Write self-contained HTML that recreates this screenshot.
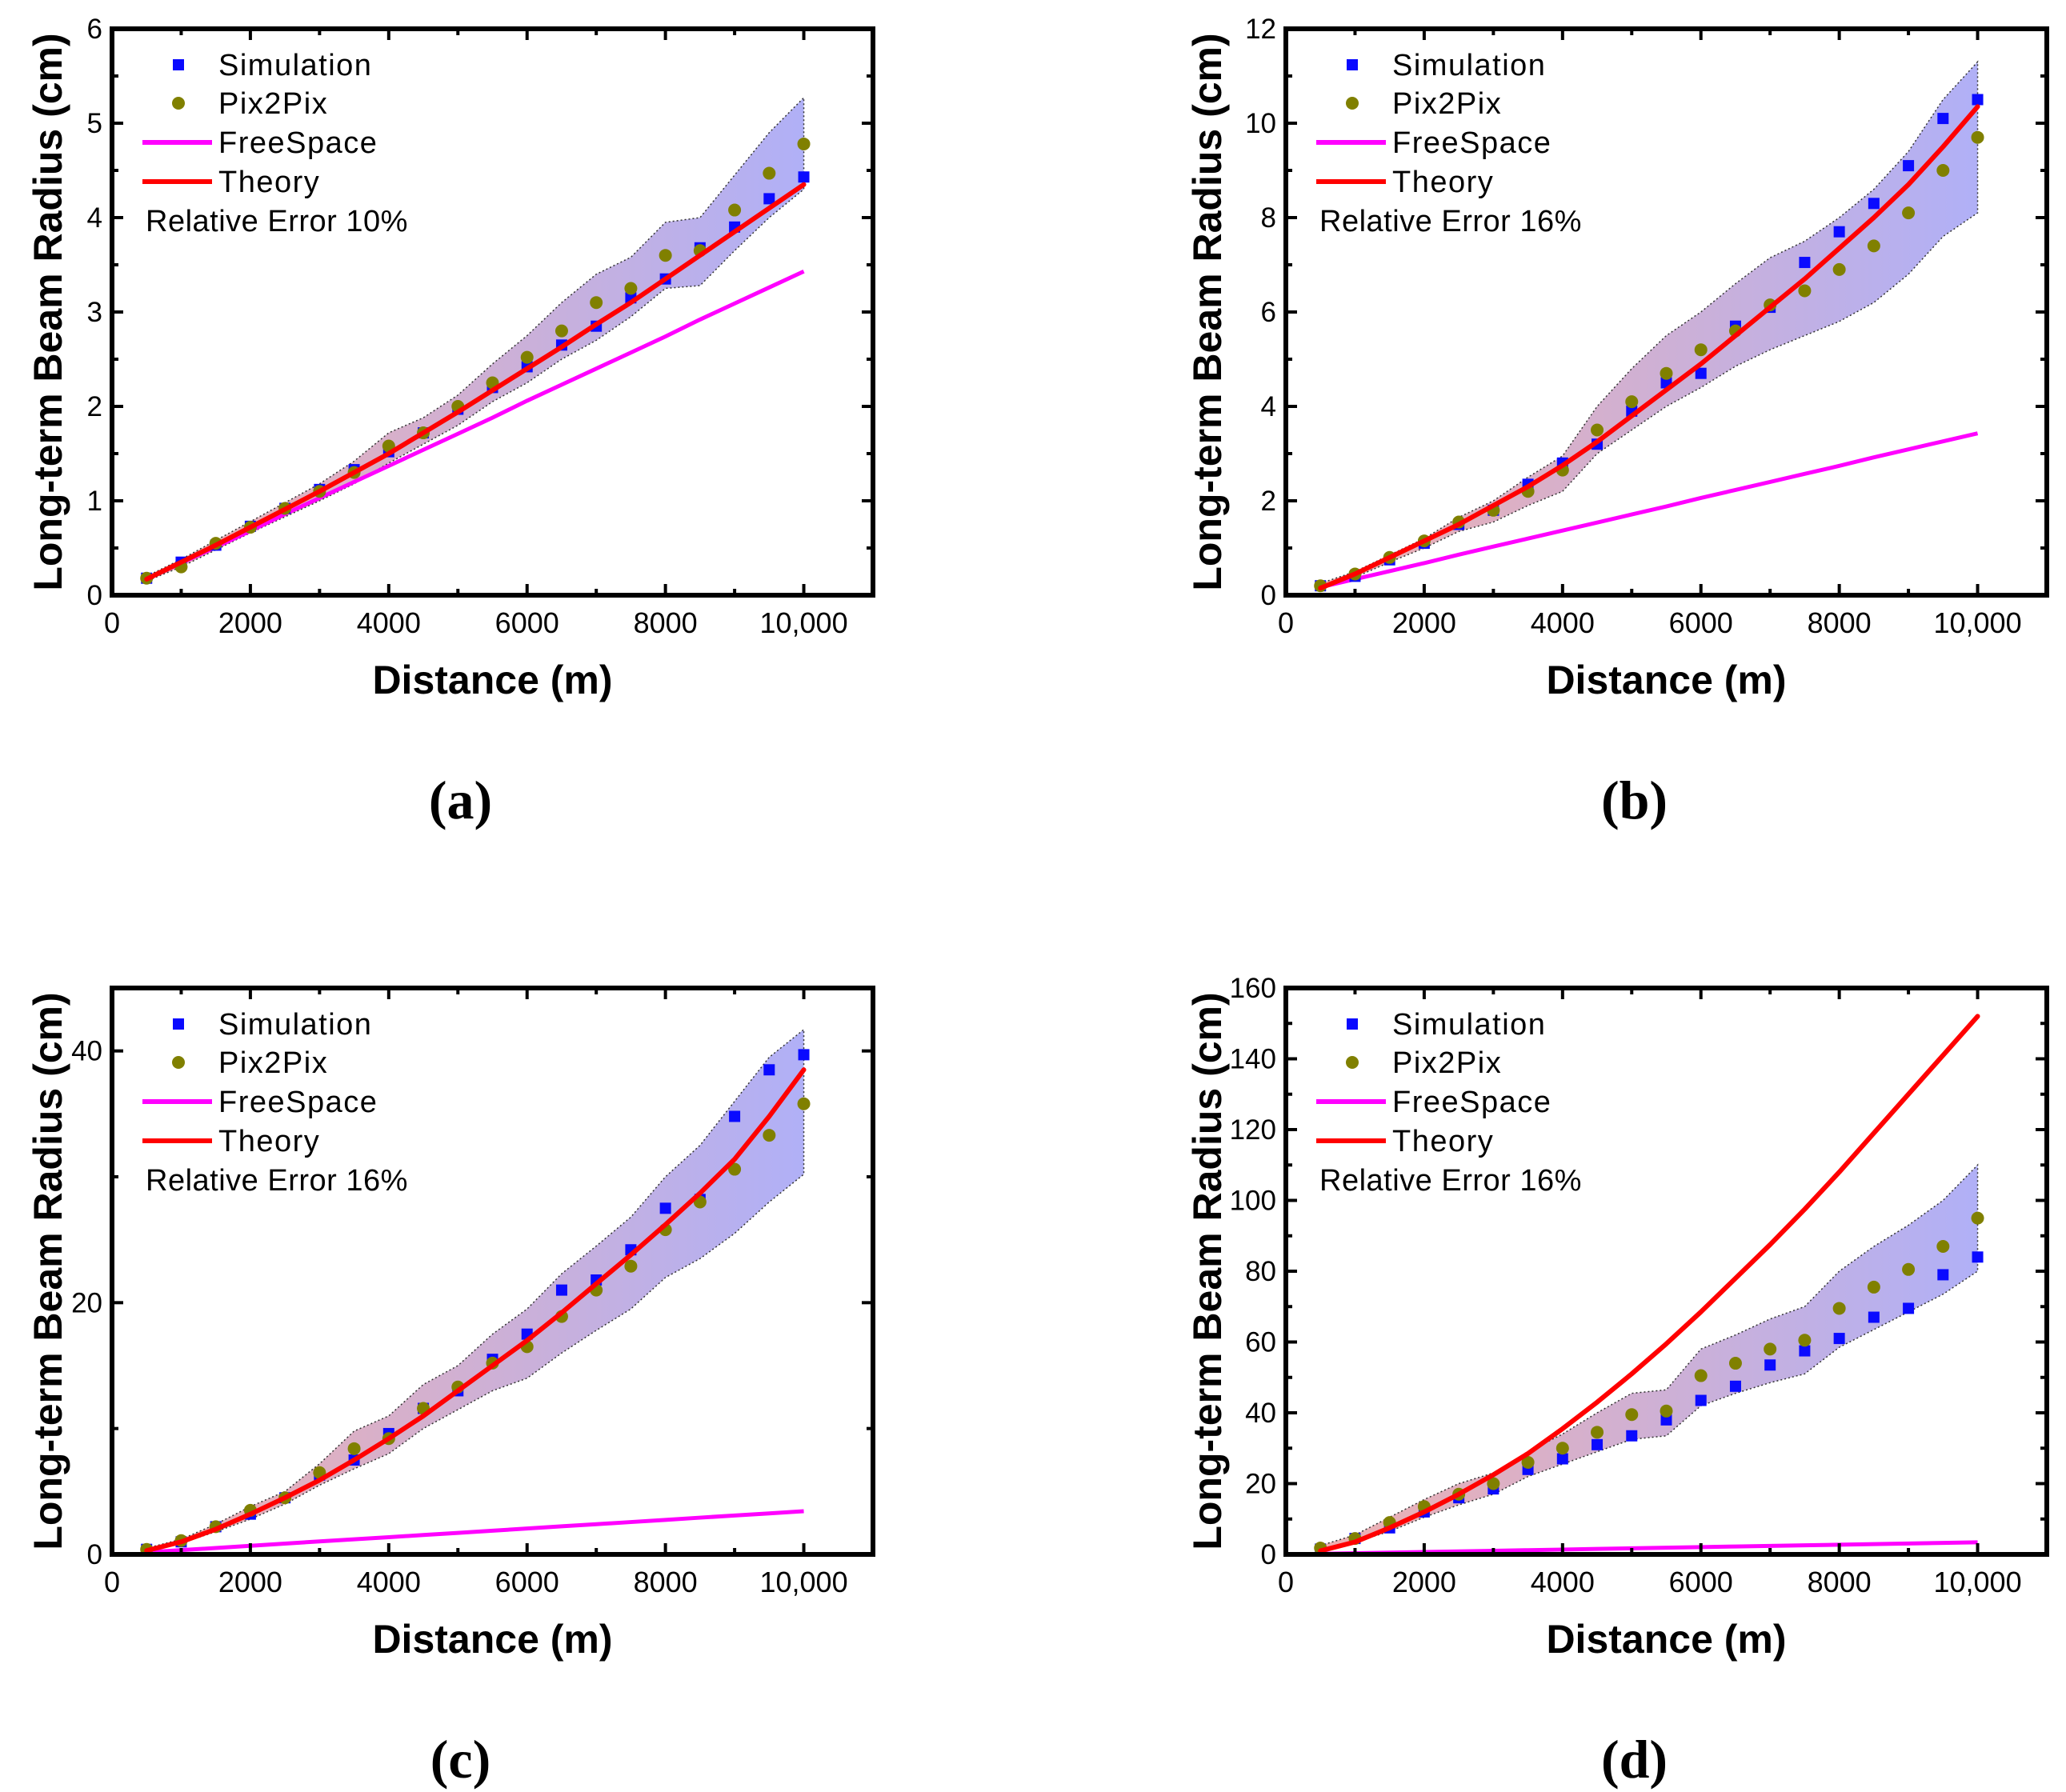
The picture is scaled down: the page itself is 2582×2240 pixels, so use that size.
<!DOCTYPE html>
<html><head><meta charset="utf-8"><style>
html,body{margin:0;padding:0;background:#fff;}
svg{display:block;font-family:"Liberation Sans",Arial,sans-serif;}
</style></head>
<body>
<svg id="fig" width="2582" height="2240" viewBox="0 0 2582 2240" xmlns="http://www.w3.org/2000/svg">
<defs>
<linearGradient id="bandGrad" x1="0" y1="0" x2="1" y2="0">
<stop offset="0" stop-color="#e07070" stop-opacity="0.55"/>
<stop offset="1" stop-color="#7070f0" stop-opacity="0.55"/>
</linearGradient>
</defs>
</svg>
<script>
const xs = [500,1000,1500,2000,2500,3000,3500,4000,4500,5000,5500,6000,6500,7000,7500,8000,8500,9000,9500,10000];
const freeSpace = [0.17,0.34,0.51,0.68,0.86,1.03,1.2,1.37,1.54,1.71,1.88,2.06,2.23,2.4,2.57,2.74,2.92,3.09,3.26,3.43];

const simA = [0.18,0.35,0.53,0.73,0.92,1.12,1.33,1.52,1.72,1.97,2.2,2.42,2.65,2.85,3.15,3.35,3.68,3.9,4.2,4.43];
const pixA = [0.18,0.3,0.55,0.72,0.92,1.1,1.3,1.58,1.72,2.0,2.25,2.52,2.8,3.1,3.25,3.6,3.65,4.08,4.47,4.78];
const theoryA = [0.17,0.35,0.53,0.72,0.91,1.1,1.3,1.5,1.72,1.94,2.17,2.4,2.63,2.87,3.1,3.35,3.6,3.85,4.1,4.35];
const upperA = [0.2,0.38,0.58,0.78,0.98,1.18,1.42,1.72,1.88,2.12,2.45,2.75,3.1,3.4,3.58,3.95,4.0,4.45,4.9,5.27];
const lowerA = [0.15,0.3,0.48,0.66,0.83,1.0,1.18,1.4,1.6,1.8,2.05,2.25,2.5,2.7,2.95,3.25,3.28,3.65,4.0,4.3];

const simB = [0.2,0.4,0.75,1.1,1.5,1.8,2.35,2.8,3.2,3.9,4.5,4.7,5.7,6.1,7.05,7.7,8.3,9.1,10.1,10.5];
const pixB = [0.2,0.45,0.8,1.15,1.55,1.8,2.2,2.65,3.5,4.1,4.7,5.2,5.6,6.15,6.45,6.9,7.4,8.1,9.0,9.7];
const theoryB = [0.15,0.45,0.8,1.15,1.5,1.9,2.3,2.75,3.25,3.8,4.35,4.9,5.5,6.1,6.7,7.35,8.0,8.7,9.5,10.35];
const upperB = [0.25,0.5,0.85,1.2,1.65,2.0,2.5,2.95,4.0,4.8,5.5,6.0,6.6,7.15,7.5,8.0,8.6,9.4,10.5,11.3];
const lowerB = [0.15,0.38,0.7,1.0,1.35,1.55,1.9,2.2,3.0,3.5,4.0,4.4,4.85,5.2,5.5,5.8,6.2,6.8,7.6,8.1];

const simC = [0.4,1.0,2.2,3.2,4.5,6.3,7.5,9.6,11.6,13.0,15.5,17.5,21.0,21.8,24.2,27.5,28.2,34.8,38.5,39.7];
const pixC = [0.4,1.1,2.2,3.5,4.5,6.5,8.4,9.2,11.6,13.3,15.2,16.5,18.9,21.0,22.9,25.8,28.0,30.6,33.3,35.8];
const theoryC = [0.3,1.0,2.0,3.2,4.5,5.9,7.5,9.2,11.0,13.0,15.0,17.0,19.2,21.5,23.8,26.2,28.7,31.4,34.8,38.5];
const upperC = [0.5,1.2,2.4,3.8,5.0,7.2,9.8,11.0,13.5,15.0,17.5,19.5,22.3,24.5,26.8,30.0,32.5,36.0,39.5,41.7];
const lowerC = [0.3,0.9,1.8,2.8,4.0,5.5,6.8,8.0,10.0,11.5,13.0,14.0,16.0,17.8,19.5,22.0,23.5,25.5,28.0,30.2];

const simD = [1.5,4.5,7.5,12.0,16.0,18.5,24.0,27.0,31.0,33.5,38.0,43.5,47.5,53.5,57.5,61.0,67.0,69.5,79.0,84.0];
const pixD = [1.8,4.5,9.0,13.5,17.0,20.0,26.0,30.0,34.5,39.5,40.5,50.5,54.0,58.0,60.5,69.5,75.5,80.5,87.0,95.0];
const theoryD = [1.0,3.5,7.5,12.0,17.0,22.5,28.5,35.5,43.0,51.0,59.5,68.5,78.0,87.5,97.5,108.0,119.0,130.0,141.0,152.0];
const upperD = [2.5,5.5,10.5,15.5,20.0,23.0,29.0,34.0,40.0,45.5,46.5,58.0,62.0,66.5,70.0,80.0,87.0,93.0,100.0,110.0];
const lowerD = [1.0,3.5,6.5,10.5,14.0,17.0,22.0,25.5,29.0,32.5,33.5,42.0,45.5,48.5,51.0,58.5,63.5,68.5,73.5,80.0];

const xTicks = [0,2000,4000,6000,8000,10000];
const xTickLabels = ["0","2000","4000","6000","8000","10,000"];
const yTicksA = [0,1,2,3,4,5,6];
const yTicksB = [0,2,4,6,8,10,12];
const yTicksC = [0,20,40];
const yTicksD = [0,20,40,60,80,100,120,140,160];
const legendLabels = ["Simulation","Pix2Pix","FreeSpace","Theory"];

const NS = "http://www.w3.org/2000/svg";
const svg = document.getElementById("fig");
function mk(tag, attrs, parent){
  const e = document.createElementNS(NS, tag);
  for (const k in attrs) e.setAttribute(k, attrs[k]);
  (parent||svg).appendChild(e);
  return e;
}

const panels = [
 {id:"a", L:140, T:36, ymax:6, yminor:0.5, yt:yTicksA, sim:simA, pix:pixA, th:theoryA, up:upperA, lo:lowerA, err:"Relative Error 10%", yoff:80},
 {id:"b", L:1607, T:36, ymax:12, yminor:1, yt:yTicksB, sim:simB, pix:pixB, th:theoryB, up:upperB, lo:lowerB, err:"Relative Error 16%", yoff:98},
 {id:"c", L:140, T:1235, ymax:45, yminor:10, yt:yTicksC, sim:simC, pix:pixC, th:theoryC, up:upperC, lo:lowerC, err:"Relative Error 16%", yoff:80},
 {id:"d", L:1607, T:1235, ymax:160, yminor:10, yt:yTicksD, sim:simD, pix:pixD, th:theoryD, up:upperD, lo:lowerD, err:"Relative Error 16%", yoff:98}
];
const W = 951, H = 708;

panels.forEach(p => {
  const g = mk("g", {});
  
  
  const xS = v => p.L + v / 11000 * W;
  const yS = v => p.T + H - v / p.ymax * H;
  const B = p.T + H, R = p.L + W;

  let d = "";
  xs.forEach((x,i)=>{ d += (i?"L":"M") + xS(x) + "," + yS(p.up[i]); });
  for (let i = xs.length-1; i >= 0; i--) d += "L" + xS(xs[i]) + "," + yS(p.lo[i]);
  d += "Z";
  const band = mk("path", {d:d, fill:"url(#bandGrad)", stroke:"#333", "stroke-width":1.5, "stroke-dasharray":"2,3"}, g);
  
  

  const fs = mk("polyline", {points: xs.map((x,i)=>xS(x)+","+yS(freeSpace[i])).join(" "), fill:"none", stroke:"#ff00ff", "stroke-width":5}, g);
  
  

  xs.forEach((x,i)=>{
    const s = mk("rect", {x:xS(x)-7, y:yS(p.sim[i])-7, width:14, height:14, fill:"#0a0aff"}, g);
    
    
  });
  xs.forEach((x,i)=>{
    const c = mk("circle", {cx:xS(x), cy:yS(p.pix[i]), r:8, fill:"#808000"}, g);
    
    
  });
  const th = mk("polyline", {points: xs.map((x,i)=>xS(x)+","+yS(p.th[i])).join(" "), fill:"none", stroke:"#ff0000", "stroke-width":6, "stroke-linejoin":"round", "stroke-linecap":"round"}, g);
  
  

  for (let v = 0; v <= 11000; v += 1000) {
    const major = v % 2000 === 0;
    const len = major ? 14 : 8;
    mk("line", {x1:xS(v), x2:xS(v), y1:B, y2:B-len, stroke:"#000", "stroke-width":4}, g);
    mk("line", {x1:xS(v), x2:xS(v), y1:p.T, y2:p.T+len, stroke:"#000", "stroke-width":4}, g);
  }
  for (let v = 0; v <= p.ymax + 1e-9; v += p.yminor) {
    const major = p.yt.some(t => Math.abs(t - v) < 1e-9);
    const len = major ? 14 : 8;
    mk("line", {x1:p.L, x2:p.L+len, y1:yS(v), y2:yS(v), stroke:"#000", "stroke-width":4}, g);
    mk("line", {x1:R, x2:R-len, y1:yS(v), y2:yS(v), stroke:"#000", "stroke-width":4}, g);
  }
  xTicks.forEach((v,i)=>{
    const t = mk("text", {x:xS(v), y:B+47, "font-size":36, "text-anchor":"middle"}, g);
    t.textContent = xTickLabels[i];
    
    
  });
  p.yt.forEach(v=>{
    const t = mk("text", {x:p.L-12, y:yS(v)+12, "font-size":35, "text-anchor":"end"}, g);
    t.textContent = String(v);
    
    
  });

  const fr = mk("rect", {x:p.L, y:p.T, width:W, height:H, fill:"none", stroke:"#000", "stroke-width":6}, g);
  
  

  const xt = mk("text", {x:p.L + W/2, y:B+123, "font-size":50, "font-weight":"bold", "text-anchor":"middle"}, g);
  xt.textContent = "Distance (m)";
  
  
  const cy = p.T + H/2, cx = p.L - p.yoff;
  const yt = mk("text", {x:cx, y:cy, "font-size":50, "font-weight":"bold", "text-anchor":"middle", "dominant-baseline":"central", transform:"rotate(-90 "+cx+" "+cy+")"}, g);
  yt.textContent = "Long-term Beam Radius (cm)";
  
  

  const lg = mk("g", {}, g);
  
  
  const rows = [45,93,142,191];
  mk("rect", {x:p.L+76, y:p.T+rows[0]-7, width:14, height:14, fill:"#0a0aff"}, lg);
  mk("circle", {cx:p.L+83, cy:p.T+rows[1], r:8, fill:"#808000"}, lg);
  mk("line", {x1:p.L+38, x2:p.L+125, y1:p.T+rows[2], y2:p.T+rows[2], stroke:"#ff00ff", "stroke-width":6}, lg);
  mk("line", {x1:p.L+38, x2:p.L+125, y1:p.T+rows[3], y2:p.T+rows[3], stroke:"#ff0000", "stroke-width":6}, lg);
  legendLabels.forEach((lab,i)=>{
    const t = mk("text", {x:p.L+133, y:p.T+rows[i]+13, "font-size":38, "letter-spacing":"1.5"}, lg);
    t.textContent = lab;
    
    
  });
  const et = mk("text", {x:p.L+42, y:p.T+253, "font-size":38, "letter-spacing":"0.5"}, g);
  et.textContent = p.err;
  
  

  const cap = mk("text", {x:p.L + W/2 - 40, y:p.T + 987, "font-size":68, "font-weight":"bold", "font-family":"Liberation Serif, serif", "text-anchor":"middle"}, g);
  cap.textContent = "(" + p.id + ")";
  
  
});
</script>
</body></html>
